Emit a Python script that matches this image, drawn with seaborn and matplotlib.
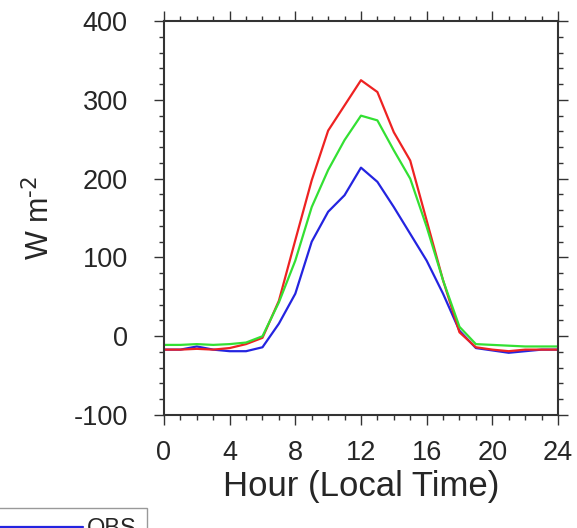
import numpy as np
import pandas as pd
import matplotlib
matplotlib.use('Agg')
import matplotlib.pyplot as plt
import seaborn as sns
from matplotlib.ticker import MultipleLocator

# diurnal cycle, hourly values 0..24 (W m-2)
hours = list(range(25))
obs = [-17, -17, -13, -17, -19, -19, -14, 16, 54, 120, 158, 179, 214,
       196, 164, 130, 96, 54, 7, -15, -18, -21, -19, -17, -17]
run_red = [-17, -17, -16, -17, -15, -10, -2, 45, 122, 198, 261, 293, 325,
           310, 259, 223, 147, 71, 5, -14, -17, -19, -17, -17, -17]
run_green = [-11, -11, -10, -11, -10, -8, 0, 43, 96, 164, 211, 249, 280,
             274, 236, 200, 139, 71, 12, -10, -11, -12, -13, -13, -13]

series = [('OBS', obs, '#2424e0'), ('red', run_red, '#ee2222'), ('green', run_green, '#33e033')]

sns.set_style('white')
plt.rcParams['font.family'] = ['Liberation Sans', 'DejaVu Sans']
plt.rcParams['axes.unicode_minus'] = False

fig = plt.figure(figsize=(5.77, 5.28), dpi=100)
ax = fig.add_axes([0.2842, 0.214, 0.967 - 0.2842, 0.960 - 0.214])

lines = {}
for name, vals, col in series:
    df = pd.DataFrame({'hour': hours, 'val': vals})
    sns.lineplot(data=df, x='hour', y='val', color=col, lw=1.6, ax=ax, legend=False)
    lines[name] = ax.lines[-1]

ax.set_xlim(0, 24)
ax.set_ylim(-100, 400)
ax.xaxis.set_major_locator(MultipleLocator(4))
ax.xaxis.set_minor_locator(MultipleLocator(1))
ax.yaxis.set_major_locator(MultipleLocator(100))
ax.yaxis.set_minor_locator(MultipleLocator(20))
ax.tick_params(which='both', direction='out', top=True, right=True, bottom=True, left=True,
               color='#333333', width=1.0)
ax.tick_params(which='major', length=7, labelsize=19.5)
ax.tick_params(which='minor', length=3.5)
ax.tick_params(axis='x', which='major', pad=11)
ax.tick_params(axis='y', which='major', pad=19)
for sp in ax.spines.values():
    sp.set_linewidth(1.5)
    sp.set_color('#333333')

ax.set_xlabel('Hour (Local Time)', fontsize=25, labelpad=3)
ax.set_ylabel('W m$^{\\text{-}2}$', fontsize=22, labelpad=12)

fig.legend(handles=[lines['OBS']], labels=['OBS'], loc='upper left',
           bbox_to_anchor=(-0.02, 0.038), bbox_transform=fig.transFigure,
           borderaxespad=0, fancybox=False, edgecolor='#999999', framealpha=1,
           fontsize=17, handlelength=3.6, handletextpad=0.15, borderpad=0.42)

fig.savefig('out.png', dpi=100)
